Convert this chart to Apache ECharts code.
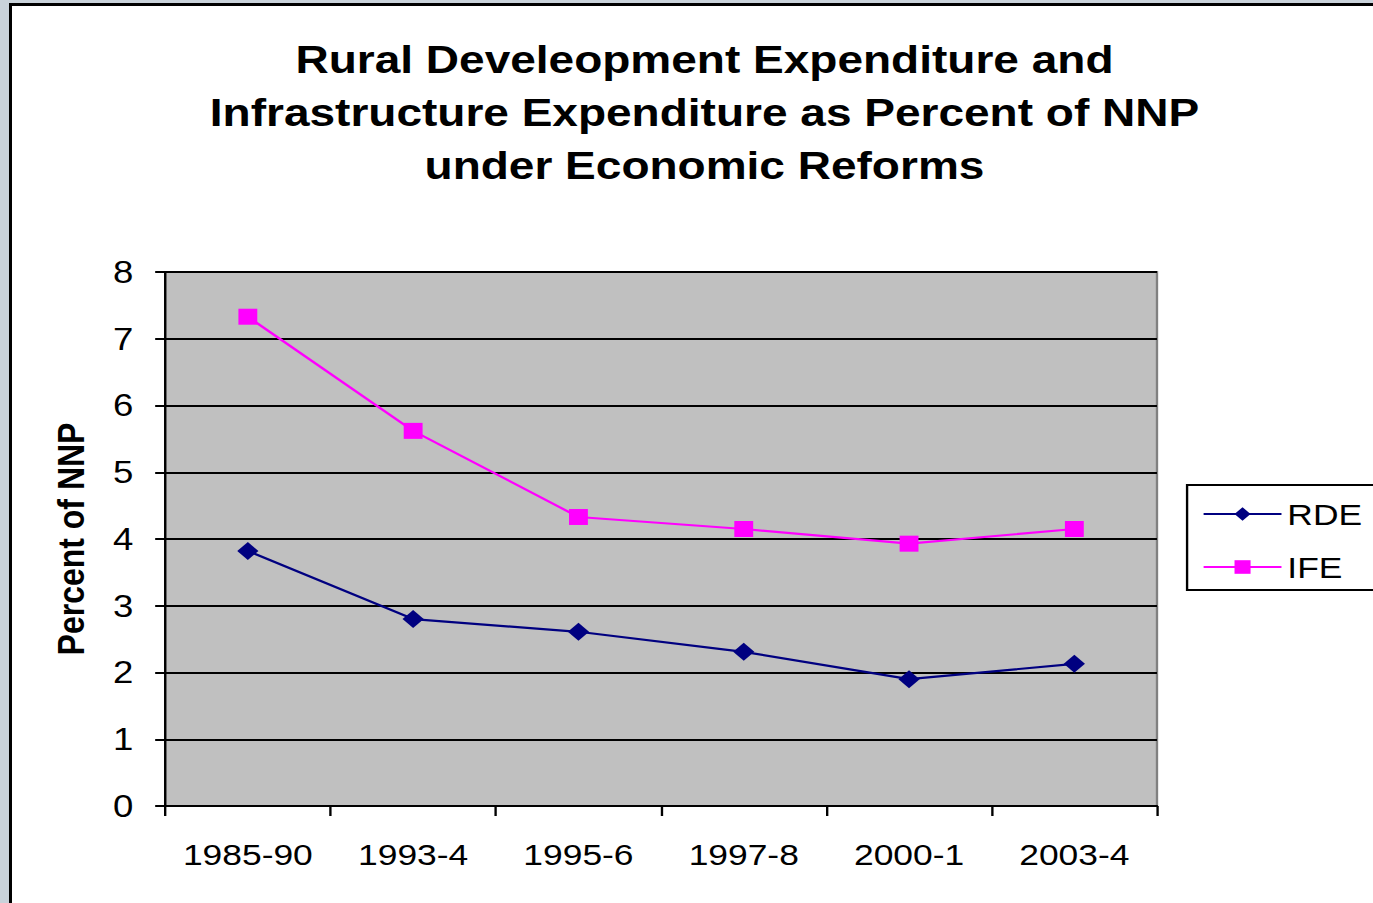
<!DOCTYPE html>
<html>
<head>
<meta charset="utf-8">
<script src="https://cdn.jsdelivr.net/npm/echarts@6/dist/echarts.min.js"></script>
<style>
  html, body { margin: 0; padding: 0; background: #c9d2da; overflow: hidden; }
  .frame {
    position: absolute; left: 9px; top: 3px; width: 1400px; height: 940px;
    background: #fff; border: 3px solid #000; box-sizing: border-box;
  }
  /* the original picture is stretched sideways, so the chart is too */
  #chart {
    position: absolute; left: 0; top: 0; width: 1164px; height: 903px;
    transform: scaleX(1.18); transform-origin: 0 0;
  }
</style>
</head>
<body>
<div class="frame"></div>
<div id="chart"></div>
<script>
const periods = ['1985-90', '1993-4', '1995-6', '1997-8', '2000-1', '2003-4']
const rde = [3.82, 2.8, 2.61, 2.31, 1.9, 2.13]
const ife = [7.33, 5.62, 4.33, 4.15, 3.93, 4.15]

const font = 'Liberation Sans, Arial, sans-serif'
const chart = echarts.init(document.getElementById('chart'), null, { renderer: 'svg' })

const option = {
  animation: false,
  title: {
    text: 'Rural Develeopment Expenditure and\nInfrastructure Expenditure as Percent of NNP\nunder Economic Reforms',
    left: 592,
    textAlign: 'center',
    top: 28,
    textStyle: {
      fontFamily: font,
      fontSize: 39,
      fontWeight: 'bold',
      lineHeight: 53,
      color: '#000'
    }
  },
  legend: {
    orient: 'vertical',
    left: 1006,
    top: 485,
    padding: [14, 30, 8, 13],
    itemWidth: 66,
    itemHeight: 17,
    itemGap: 23,
    borderColor: '#000',
    borderWidth: 2,
    backgroundColor: '#fff',
    textStyle: { fontFamily: font, fontSize: 30, color: '#000' },
    data: ['RDE', 'IFE']
  },
  grid: {
    left: 140,
    top: 272,
    width: 840.5,
    height: 534,
    show: true,
    backgroundColor: '#c0c0c0',
    borderColor: '#808080',
    borderWidth: 2
  },
  xAxis: {
    type: 'category',
    data: periods,
    boundaryGap: true,
    axisLine: { lineStyle: { color: '#000', width: 2 } },
    axisTick: { show: true, interval: 0, length: 10, lineStyle: { color: '#000', width: 2 } },
    axisLabel: { interval: 0, hideOverlap: false, margin: 33, fontFamily: font, fontSize: 30, color: '#000' }
  },
  yAxis: {
    type: 'value',
    min: 0,
    max: 8,
    interval: 1,
    name: 'Percent of NNP',
    nameLocation: 'middle',
    nameRotate: 90,
    nameGap: 64,
    nameTextStyle: { fontFamily: font, fontSize: 32, fontWeight: 'bold', color: '#000' },
    axisLine: { show: true, lineStyle: { color: '#000', width: 2 } },
    axisTick: { show: true, length: 8.5, lineStyle: { color: '#000', width: 2 } },
    axisLabel: { margin: 27, fontFamily: font, fontSize: 31, color: '#000' },
    splitLine: { show: true, lineStyle: { color: '#000', width: 2 } }
  },
  series: [
    {
      name: 'RDE',
      type: 'line',
      data: rde,
      symbol: 'diamond',
      symbolSize: 18,
      color: '#000080',
      lineStyle: { width: 2.2, color: '#000080' },
      itemStyle: { color: '#000080' }
    },
    {
      name: 'IFE',
      type: 'line',
      data: ife,
      symbol: 'rect',
      symbolSize: 16,
      color: '#ff00ff',
      lineStyle: { width: 2.2, color: '#ff00ff' },
      itemStyle: { color: '#ff00ff' }
    }
  ]
}

chart.setOption(option)
</script>
</body>
</html>
